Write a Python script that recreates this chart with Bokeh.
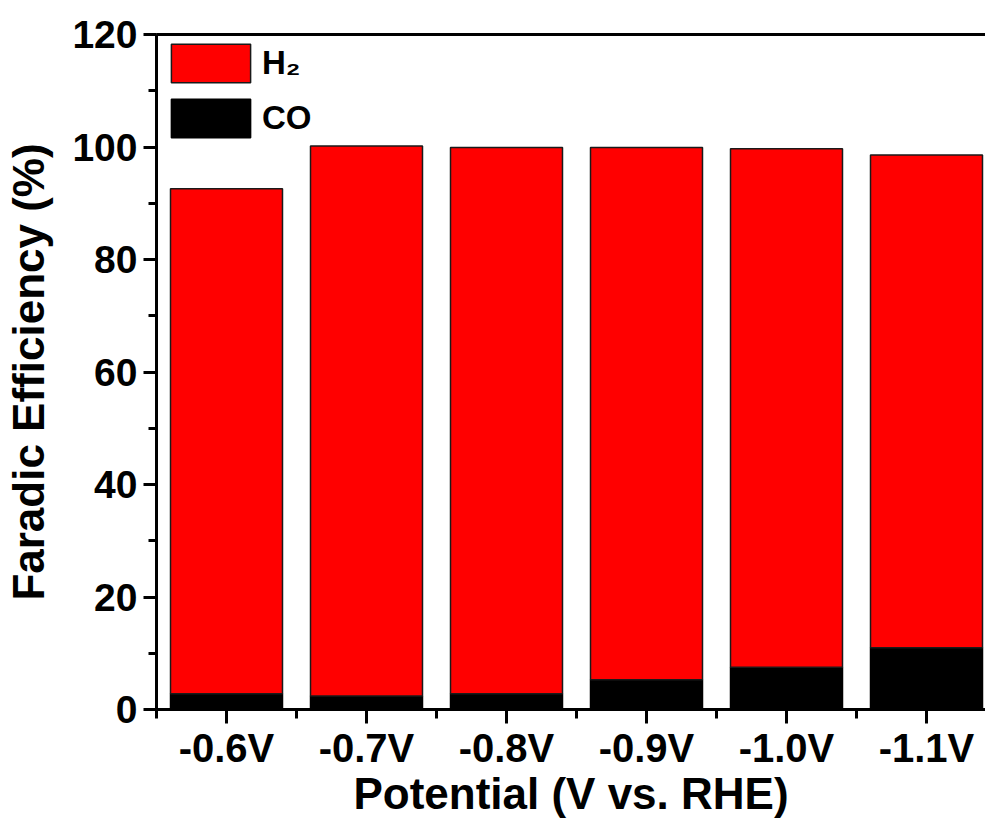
from bokeh.plotting import figure
from bokeh.models import (Range1d, FixedTicker, SingleIntervalTicker, LinearAxis,
                          Legend, LegendItem, ColumnDataSource)
from bokeh.embed import file_html
from bokeh.resources import INLINE

# ---- data ----
potentials = ["-0.6V", "-0.7V", "-0.8V", "-0.9V", "-1.0V", "-1.1V"]
fe_co = [2.8, 2.4, 2.8, 5.3, 7.5, 11.0]
fe_h2 = [89.8, 97.8, 97.1, 94.6, 92.2, 87.6]
y_ticks = [0, 20, 40, 60, 80, 100, 120]

xs = list(range(len(potentials)))
co_top = fe_co
h2_top = [c + h for c, h in zip(fe_co, fe_h2)]
src = ColumnDataSource(dict(x=xs, co_bottom=[0] * len(xs), co_top=co_top,
                            h2_bottom=fe_co, h2_top=h2_top))

FONT = "Liberation Sans"
W, H = 985, 820
LEFT, TOP, BOTTOM = 156, 34, 111
step = 140.0
x_end = -0.5 + (W - LEFT) / step

p = figure(width=W, height=H, output_backend="svg", toolbar_location=None,
           x_range=Range1d(-0.5, x_end), y_range=Range1d(0, 120),
           min_border_left=LEFT, min_border_right=0, min_border_top=TOP,
           min_border_bottom=BOTTOM)
p.outline_line_color = None
p.grid.visible = False
p.background_fill_color = "white"
p.border_fill_color = "white"

r_co = p.vbar(x="x", width=0.8, bottom="co_bottom", top="co_top", source=src,
              fill_color="black", line_color="black", line_width=1.5)
r_h2 = p.vbar(x="x", width=0.8, bottom="h2_bottom", top="h2_top", source=src,
              fill_color="#ff0000", line_color="#1a1a1a", line_width=1.5)

# x axis
xa = p.xaxis[0]
xa.ticker = FixedTicker(ticks=xs, minor_ticks=[i - 0.5 for i in range(len(xs) + 1)])
xa.major_label_overrides = {i: lab for i, lab in enumerate(potentials)}
xa.axis_label = "Potential (V vs. RHE)"

# y axis
ya = p.yaxis[0]
ya.ticker = SingleIntervalTicker(interval=20, num_minor_ticks=2)
ya.axis_label = "Faradic Efficiency (%)"

for ax in (xa, ya):
    ax.axis_line_width = 3
    ax.axis_line_color = "black"
    ax.major_tick_line_width = 3
    ax.minor_tick_line_width = 3
    ax.major_tick_line_color = "black"
    ax.minor_tick_line_color = "black"
    ax.major_tick_in = 0
    ax.minor_tick_in = 0
    ax.major_label_text_font = FONT
    ax.major_label_text_font_style = "bold"
    ax.major_label_text_color = "black"
    ax.axis_label_text_font = FONT
    ax.axis_label_text_font_style = "bold"
    ax.axis_label_text_color = "black"
    ax.axis_label_text_font_size = "44px"

xa.major_tick_out = 14
xa.minor_tick_out = 9
xa.major_label_text_font_size = "40px"
xa.major_label_standoff = 2
xa.axis_label_standoff = -4

ya.major_tick_out = 13
ya.minor_tick_out = 8
ya.major_label_text_font_size = "39px"
ya.major_label_standoff = 6
ya.axis_label_standoff = 16

# top frame line
top_ax = LinearAxis(axis_line_width=3, axis_line_color="black",
                    major_tick_line_color=None, minor_tick_line_color=None,
                    major_label_text_font_size="0px", ticker=FixedTicker(ticks=[]))
p.add_layout(top_ax, "above")

legend = Legend(items=[LegendItem(label="H₂", renderers=[r_h2]),
                       LegendItem(label="CO", renderers=[r_co])],
                location="top_left", margin=5, padding=7,
                glyph_width=99, glyph_height=48, label_height=48,
                spacing=7, label_standoff=2,
                label_text_font=FONT, label_text_font_style="bold",
                label_text_font_size="33px", label_text_color="black",
                border_line_color=None, background_fill_alpha=0)
p.add_layout(legend)

open("out.html", "w").write(file_html(p, INLINE))
